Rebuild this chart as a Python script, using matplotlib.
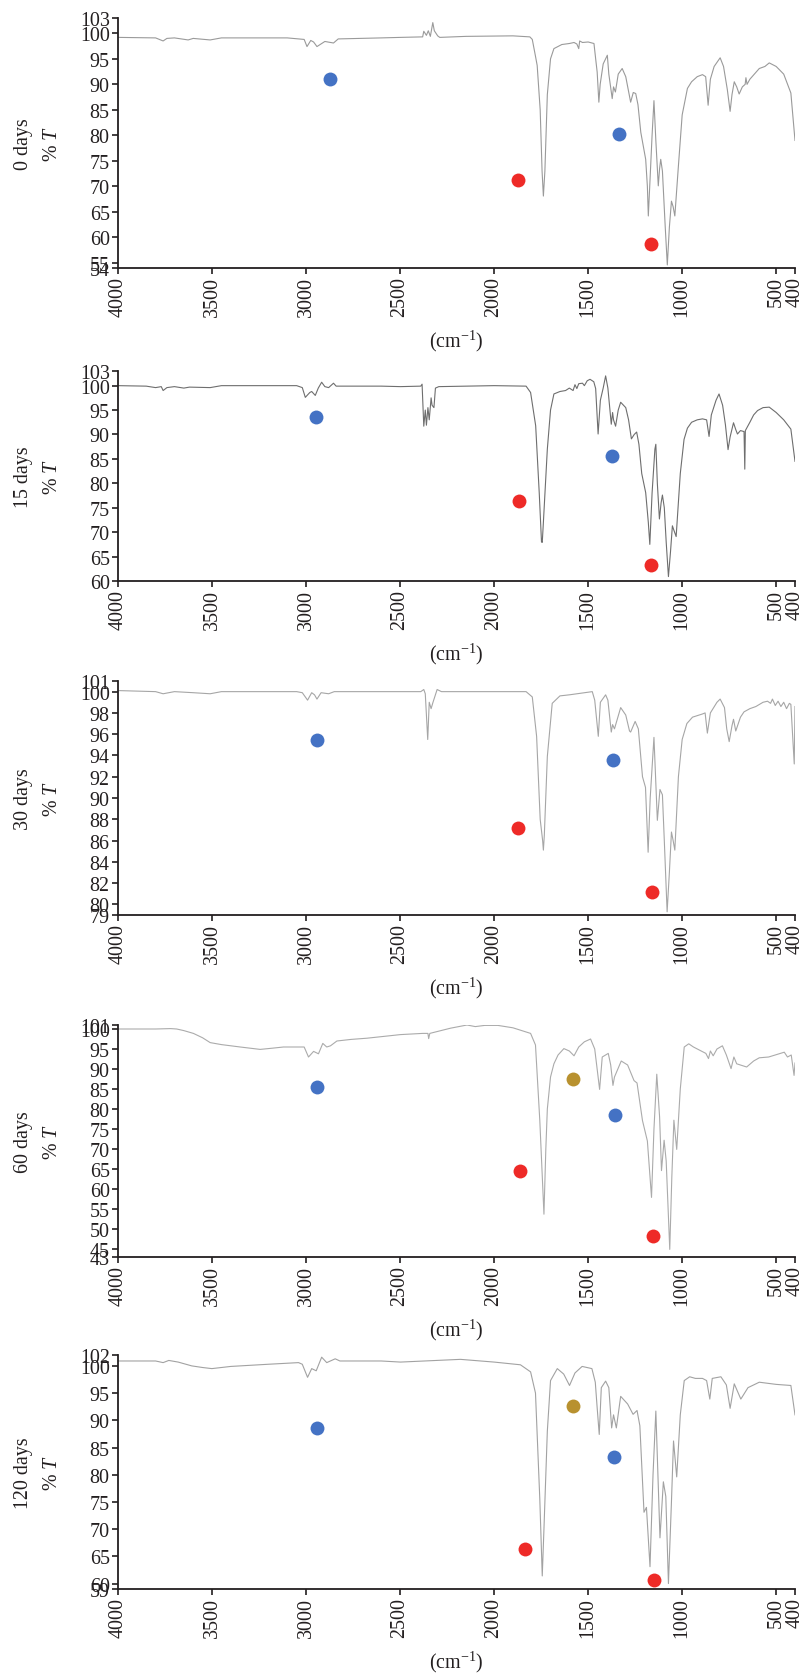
import matplotlib.pyplot as plt

plt.rcParams['font.family'] = ['Liberation Serif', 'DejaVu Serif']
plt.rcParams['mathtext.fontset'] = 'custom'
plt.rcParams['mathtext.rm'] = 'Liberation Serif'
plt.rcParams['mathtext.it'] = 'Liberation Serif:italic'

# ---- data (wavenumber, %T) ----
day_labels = ["0 days", "15 days", "30 days", "60 days", "120 days"]
x_ticks = [4000, 3500, 3000, 2500, 2000, 1500, 1000, 500, 400]

spec_0d = [(4000, 99.2), (3800, 99.1), (3760, 98.5), (3740, 99.0), (3700, 99.1), (3627, 98.7),
           (3600, 99.0), (3510, 98.7), (3450, 99.1), (3100, 99.1), (3010, 98.8), (2995, 97.4),
           (2975, 98.6), (2960, 98.3), (2942, 97.4), (2900, 98.4), (2854, 98.1), (2829, 98.9),
           (2600, 99.1), (2498, 99.2), (2380, 99.3), (2374, 100.4), (2360, 99.6), (2350, 100.5),
           (2339, 99.4), (2326, 102.1), (2318, 100.5), (2300, 99.5), (2289, 99.2), (2150, 99.4),
           (1900, 99.5), (1810, 99.3), (1797, 98.8), (1780, 95.5), (1771, 93.7), (1755, 85.0),
           (1745, 73.0), (1738, 68.1), (1730, 73.0), (1717, 88.0), (1700, 95.0), (1682, 97.0),
           (1640, 97.8), (1600, 98.0), (1575, 98.2), (1560, 97.9), (1550, 97.0), (1545, 98.5),
           (1530, 98.2), (1500, 98.3), (1469, 98.0), (1460, 95.0), (1452, 92.4), (1443, 86.5),
           (1436, 90.0), (1420, 94.0), (1398, 95.7), (1390, 92.0), (1372, 87.2), (1365, 89.5),
           (1355, 88.5), (1340, 92.0), (1319, 93.1), (1300, 91.5), (1274, 86.5), (1260, 88.4),
           (1247, 88.2), (1235, 86.0), (1220, 80.6), (1194, 75.3), (1185, 70.0), (1180, 64.2),
           (1170, 72.0), (1160, 80.0), (1150, 86.8), (1140, 79.0), (1127, 70.1), (1120, 73.5),
           (1114, 75.3), (1105, 73.0), (1090, 62.0), (1079, 54.6), (1068, 62.0), (1057, 67.1),
           (1048, 66.0), (1039, 64.2), (1020, 74.0), (1000, 84.0), (972, 89.2), (950, 90.5),
           (920, 91.5), (892, 91.9), (875, 91.5), (862, 85.9), (850, 91.0), (830, 93.5),
           (798, 95.2), (780, 93.5), (760, 89.0), (745, 84.7), (735, 88.0), (723, 90.5),
           (710, 89.5), (697, 88.1), (680, 89.5), (665, 90.0), (661, 91.3), (655, 90.0),
           (640, 91.0), (590, 93.1), (560, 93.5), (537, 94.2), (500, 93.5), (460, 92.0),
           (422, 88.3), (400, 79.0)]

spec_15d = [(4000, 100.0), (3850, 99.9), (3800, 99.6), (3770, 99.8), (3760, 99.0), (3740, 99.6),
            (3700, 99.8), (3650, 99.5), (3620, 99.7), (3510, 99.6), (3450, 100.0), (3050, 100.0),
            (3020, 99.6), (3004, 97.6), (2980, 98.6), (2970, 98.8), (2951, 98.0), (2935, 99.5),
            (2917, 100.7), (2900, 99.8), (2880, 99.6), (2854, 100.5), (2840, 99.9), (2600, 99.9),
            (2498, 99.8), (2390, 99.9), (2383, 100.3), (2374, 91.7), (2366, 95.0), (2360, 91.9),
            (2352, 95.5), (2345, 93.0), (2335, 97.5), (2330, 96.0), (2320, 95.5), (2312, 99.5),
            (2294, 99.8), (2000, 100.0), (1830, 99.9), (1806, 98.6), (1779, 91.8), (1760, 78.0),
            (1748, 68.0), (1744, 67.9), (1738, 72.0), (1717, 87.0), (1700, 95.0), (1682, 98.3),
            (1650, 98.8), (1620, 99.0), (1600, 99.5), (1580, 99.0), (1570, 100.2), (1560, 99.4),
            (1550, 100.4), (1530, 100.5), (1520, 100.0), (1505, 101.0), (1490, 101.3),
            (1470, 100.8), (1460, 99.4), (1447, 90.1), (1435, 97.0), (1420, 99.5), (1407, 102.0),
            (1395, 99.5), (1377, 92.1), (1370, 94.5), (1365, 93.0), (1354, 91.7), (1340, 95.0),
            (1327, 96.6), (1300, 95.5), (1285, 93.0), (1270, 89.1), (1255, 90.0), (1242, 90.5),
            (1230, 88.0), (1215, 82.0), (1194, 78.1), (1180, 72.0), (1172, 67.5), (1160, 78.0),
            (1145, 87.0), (1140, 88.0), (1132, 80.0), (1121, 72.7), (1112, 76.0), (1105, 77.6),
            (1095, 75.0), (1085, 68.0), (1073, 60.9), (1062, 66.0), (1052, 71.3), (1045, 70.5),
            (1032, 69.1), (1010, 82.0), (990, 89.0), (972, 91.3), (950, 92.5), (920, 93.0),
            (892, 93.2), (870, 93.0), (857, 89.6), (845, 94.0), (820, 97.0), (804, 98.3),
            (785, 96.0), (770, 92.0), (756, 86.9), (745, 89.5), (727, 92.4), (715, 91.0),
            (706, 90.1), (690, 90.8), (671, 90.6), (667, 82.9), (664, 90.8), (640, 92.5),
            (620, 94.0), (599, 94.9), (570, 95.5), (537, 95.6), (500, 94.5), (460, 93.0),
            (422, 91.1), (400, 84.5)]

spec_30d = [(4000, 100.1), (3800, 100.0), (3760, 99.8), (3700, 100.0), (3600, 99.9), (3510, 99.8),
            (3450, 100.0), (3050, 100.0), (3020, 99.9), (2992, 99.2), (2970, 99.9), (2955, 99.7),
            (2942, 99.3), (2920, 99.9), (2880, 99.8), (2850, 100.0), (2500, 100.0), (2390, 100.0),
            (2374, 100.2), (2366, 99.8), (2353, 95.5), (2345, 99.0), (2335, 98.4), (2325, 99.0),
            (2303, 100.2), (2280, 100.0), (1830, 100.0), (1797, 99.5), (1774, 95.8), (1755, 88.0),
            (1742, 86.0), (1738, 85.1), (1733, 86.5), (1717, 93.9), (1691, 98.9), (1650, 99.6),
            (1600, 99.7), (1478, 100.0), (1465, 99.2), (1446, 95.8), (1435, 99.0), (1407, 99.7),
            (1395, 99.2), (1377, 96.2), (1370, 96.9), (1360, 96.5), (1327, 98.5), (1300, 97.8),
            (1280, 96.3), (1274, 96.2), (1250, 97.2), (1233, 96.5), (1211, 92.0), (1195, 91.0),
            (1181, 84.9), (1170, 90.0), (1150, 95.7), (1132, 87.9), (1118, 90.8), (1105, 90.3),
            (1095, 86.0), (1080, 79.3), (1068, 83.0), (1057, 86.8), (1048, 86.0), (1039, 85.1),
            (1020, 92.0), (1000, 95.5), (975, 97.0), (945, 97.6), (892, 97.9), (878, 98.0),
            (866, 96.1), (850, 98.0), (815, 99.0), (798, 99.3), (775, 98.5), (763, 96.5),
            (750, 95.3), (735, 96.8), (727, 97.4), (715, 96.3), (690, 97.6), (671, 98.1),
            (640, 98.4), (608, 98.6), (570, 99.0), (546, 99.1), (530, 98.9), (520, 99.3),
            (505, 98.7), (490, 99.1), (475, 98.6), (460, 99.0), (445, 98.4), (430, 98.9),
            (422, 98.8), (404, 93.2), (400, 98.6)]

spec_60d = [(4000, 100.0), (3800, 100.0), (3720, 100.1), (3688, 100.0), (3650, 99.6), (3599, 98.9),
            (3550, 97.8), (3510, 96.6), (3450, 96.1), (3350, 95.5), (3244, 94.9), (3180, 95.2),
            (3120, 95.5), (3010, 95.5), (2987, 93.0), (2960, 94.4), (2934, 93.8), (2911, 96.4),
            (2890, 95.5), (2870, 95.8), (2836, 97.0), (2760, 97.4), (2676, 97.7), (2498, 98.6),
            (2380, 98.9), (2352, 98.9), (2348, 97.6), (2342, 98.9), (2232, 100.2), (2144, 101.0),
            (2100, 100.6), (2050, 100.9), (1980, 100.9), (1900, 100.3), (1806, 98.9), (1780, 96.0),
            (1757, 77.1), (1735, 53.7), (1725, 70.0), (1717, 80.0), (1700, 88.0), (1682, 91.3),
            (1660, 93.5), (1629, 95.1), (1600, 94.5), (1575, 93.3), (1550, 95.5), (1520, 96.8),
            (1487, 97.5), (1465, 95.0), (1439, 84.9), (1425, 93.0), (1393, 93.9), (1380, 91.0),
            (1368, 85.9), (1360, 88.0), (1324, 92.0), (1290, 91.0), (1256, 87.1), (1240, 86.5),
            (1211, 77.1), (1185, 72.0), (1163, 57.9), (1150, 75.0), (1135, 88.7), (1120, 78.0),
            (1110, 64.6), (1096, 72.2), (1085, 67.0), (1066, 44.9), (1055, 63.0), (1044, 77.2),
            (1029, 69.9), (1010, 85.0), (989, 95.5), (965, 96.3), (940, 95.5), (874, 93.9),
            (860, 92.6), (850, 94.5), (835, 93.3), (815, 95.0), (786, 95.8), (765, 93.5),
            (740, 90.1), (725, 93.0), (710, 91.3), (657, 90.5), (620, 92.0), (590, 92.8),
            (540, 93.0), (457, 94.2), (440, 93.0), (420, 93.5), (405, 88.4), (400, 91.5)]

spec_120d = [(4000, 100.9), (3800, 100.9), (3760, 100.6), (3730, 101.0), (3680, 100.7), (3608, 100.0),
             (3550, 99.7), (3501, 99.5), (3400, 99.9), (3200, 100.3), (3040, 100.6), (3020, 100.3),
             (2992, 97.9), (2970, 99.5), (2946, 99.1), (2917, 101.6), (2890, 100.6), (2845, 101.3),
             (2820, 100.9), (2600, 100.9), (2498, 100.7), (2179, 101.2), (2000, 100.7), (1860, 100.2),
             (1806, 98.9), (1780, 95.0), (1757, 75.5), (1744, 61.4), (1735, 70.0), (1717, 88.0),
             (1700, 97.3), (1664, 99.5), (1630, 98.5), (1599, 96.4), (1570, 98.7), (1532, 99.9),
             (1480, 99.5), (1462, 97.0), (1452, 92.3), (1441, 87.4), (1430, 96.0), (1407, 97.2),
             (1390, 96.0), (1375, 88.6), (1365, 91.0), (1350, 88.6), (1327, 94.4), (1290, 93.0),
             (1261, 91.1), (1240, 91.8), (1225, 89.0), (1203, 73.1), (1190, 74.0), (1171, 63.1),
             (1155, 80.0), (1140, 91.7), (1118, 68.4), (1100, 78.7), (1087, 76.0), (1073, 60.0),
             (1057, 75.0), (1046, 86.2), (1029, 79.6), (1010, 91.0), (989, 97.3), (960, 98.0),
             (930, 97.7), (892, 97.7), (870, 97.3), (853, 93.9), (840, 97.7), (794, 98.0),
             (765, 96.5), (745, 92.2), (723, 96.7), (688, 93.9), (650, 96.0), (590, 97.0),
             (500, 96.6), (422, 96.4), (400, 91.0)]

# marker dots (wavenumber, %T)
blue_pts = [[(2875, 91.1), (1334, 80.3)],
            [(2948, 93.6), (1374, 85.5)],
            [(2942, 95.5), (1366, 93.6)],
            [(2942, 85.5), (1359, 78.6)],
            [(2942, 88.5), (1363, 83.2)]]
red_pts = [[(1874, 71.3), (1167, 58.8)],
           [(1870, 76.4), (1165, 63.2)],
           [(1872, 87.2), (1163, 81.2)],
           [(1864, 64.6), (1154, 48.3)],
           [(1838, 66.3), (1150, 60.6)]]
gold_pts = [[], [], [], [(1582, 87.4)], [(1582, 92.7)]]

y_ticks = [[54, 55, 60, 65, 70, 75, 80, 85, 90, 95, 100, 103],
           [60, 65, 70, 75, 80, 85, 90, 95, 100, 103],
           [79, 80, 82, 84, 86, 88, 90, 92, 94, 96, 98, 100, 101],
           [43, 45, 50, 55, 60, 65, 70, 75, 80, 85, 90, 95, 100, 101],
           [59, 60, 65, 70, 75, 80, 85, 90, 95, 100, 102]]

spectra = [spec_0d, spec_15d, spec_30d, spec_60d, spec_120d]

# ---- layout (pixels) ----
W, H = 804, 1681
LEFT, RIGHT = 118, 795
tops = [19, 372, 682, 1026, 1356]
bottoms = [269, 582, 916, 1258, 1590]
line_colors = ['#9a9a9a', '#6e6e6e', '#a6a6a6', '#ababab', '#a2a2a2']
BLUE, RED, GOLD = '#4472c4', '#ee2a27', '#b8912f'
FS = 14.4
TXT = '#231f20'

fig = plt.figure(figsize=(W / 100, H / 100), dpi=100)

for i in range(5):
    top, bot = tops[i], bottoms[i]
    ax = fig.add_axes([LEFT / W, 1 - bot / H, (RIGHT - LEFT) / W, (bot - top) / H])
    wn, t = zip(*spectra[i])
    ax.plot(wn, t, color=line_colors[i], lw=0.8)
    for pts, c in ((blue_pts[i], BLUE), (red_pts[i], RED), (gold_pts[i], GOLD)):
        if pts:
            px, py = zip(*pts)
            ax.plot(px, py, 'o', ms=10, color=c, mec='none', clip_on=False)

    yt = y_ticks[i]
    ax.set_xlim(4000, 400)
    ax.set_ylim(yt[0], yt[-1])
    ax.set_xticks(x_ticks)
    ax.set_xticklabels([str(v) for v in x_ticks], rotation=90)
    ax.set_yticks(yt)
    for s in ('top', 'right'):
        ax.spines[s].set_visible(False)
    for s in ('left', 'bottom'):
        ax.spines[s].set_linewidth(1.3)
        ax.spines[s].set_color('#231f20')
    ax.tick_params(direction='out', length=4, width=1.2, labelsize=FS,
                   colors=TXT, pad=2)

    fig.text(38 / W, 1 - (top + bot) / 2 / H, day_labels[i] + "\n% $T$",
             rotation=90, ha='center', va='center', multialignment='center',
             linespacing=1.65, fontsize=FS, color=TXT)
    fig.text((LEFT + RIGHT) / 2 / W, 1 - (bot + 72) / H, "(cm$^{-1}$)",
             ha='center', va='center', fontsize=FS, color=TXT)

fig.savefig('out.png', dpi=100)
